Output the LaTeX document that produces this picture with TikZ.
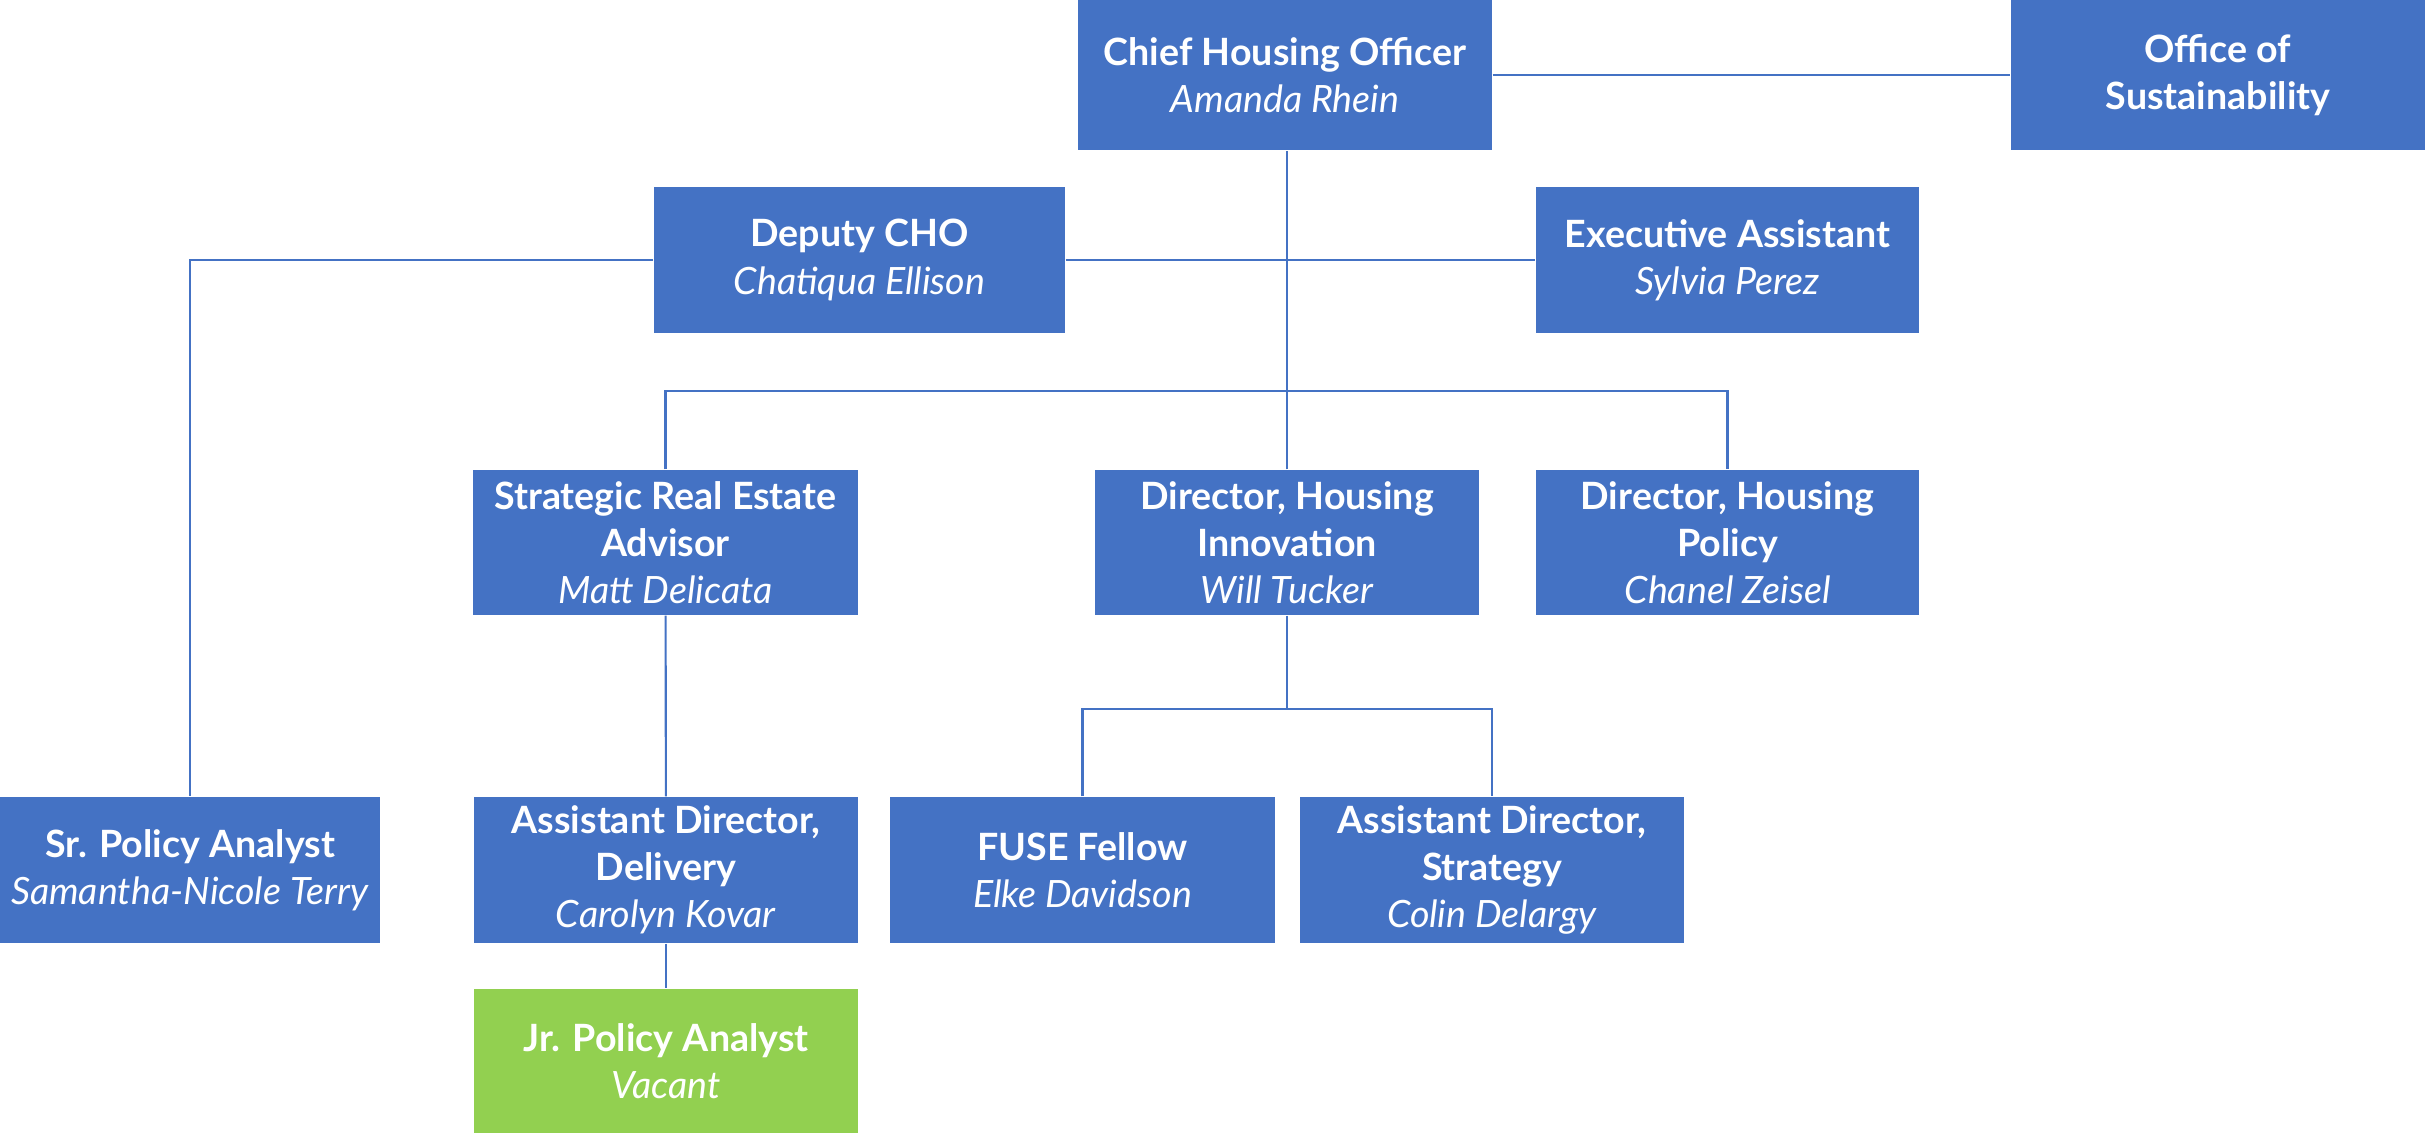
\documentclass[tikz,border=0pt]{standalone}
\usepackage{fontspec}
\setmainfont{Lato}
\definecolor{chblue}{HTML}{4472C4}
\definecolor{chgreen}{HTML}{92D050}
\tikzset{
	post/.style={fill=chblue, text=white, align=center, inner sep=0pt,
		minimum width=38.5mm, minimum height=14.5mm,
		font=\fontsize{10.7}{13.4}\selectfont},
	link/.style={draw=chblue, line width=0.6pt}
}
\newcommand{\who}[1]{\textit{#1}}
\begin{document}
\begin{tikzpicture}[x=0.1mm,y=-0.1mm]
	\useasboundingbox (0,0) rectangle (2425,1133);
	% top row
	\node[post, minimum width=41.4mm, minimum height=15mm] (cho) at (1285,75) {\textbf{Chief Housing Officer}\\\who{Amanda Rhein}};
	\node[post, minimum width=41.4mm, minimum height=15mm] (sust) at (2218,75) {\textbf{Office of}\\\textbf{Sustainability}};
	% deputy and assistant
	\node[post, minimum width=41.1mm, minimum height=14.6mm] (dep) at (859.5,260) {\textbf{Deputy CHO}\\\who{Chatiqua Ellison}};
	\node[post, minimum width=38.3mm, minimum height=14.6mm] (exec) at (1727.5,260) {\textbf{Executive Assistant}\\\who{Sylvia Perez}};
	% directors
	\node[post] (real) at (665.5,542.5) {\textbf{Strategic Real Estate}\\\textbf{Advisor}\\\who{Matt Delicata}};
	\node[post, minimum width=38.4mm] (innov) at (1287,542.5) {\textbf{Director, Housing}\\\textbf{Innovation}\\\who{Will Tucker}};
	\node[post, minimum width=38.3mm] (pol) at (1727.5,542.5) {\textbf{Director, Housing}\\\textbf{Policy}\\\who{Chanel Zeisel}};
	% staff
	\node[post, minimum width=38mm, minimum height=14.6mm] (sr) at (190,870) {\textbf{Sr. Policy Analyst}\\\who{Samantha-Nicole Terry}};
	\node[post, minimum width=38.4mm, minimum height=14.6mm] (deliv) at (666,870) {\textbf{Assistant Director,}\\\textbf{Delivery}\\\who{Carolyn Kovar}};
	\node[post, minimum height=14.6mm] (fuse) at (1082.5,870) {\textbf{FUSE Fellow}\\\who{Elke Davidson}};
	\node[post, minimum width=38.4mm, minimum height=14.6mm] (strat) at (1492,870) {\textbf{Assistant Director,}\\\textbf{Strategy}\\\who{Colin Delargy}};
	\node[post, fill=chgreen, minimum width=38.4mm, minimum height=14.4mm] (jr) at (666,1061) {\textbf{Jr. Policy Analyst}\\\who{Vacant}};
	% connectors
	\coordinate (bus) at (1287,391);
	\coordinate (fbus) at (1287,709);
	\draw[link] (cho) -- (sust);
	\draw[link] (innov.north) -- (innov.north |- cho.south);
	\draw[link] (dep) -- (exec);
	\draw[link] (dep.west) -| (sr.north);
	\draw[link] (real.north) |- (bus) -| (pol.north);
	\draw[link] (real) -- (deliv);
	\draw[link] (deliv) -- (jr);
	\draw[link] (innov.south) -- (fbus);
	\draw[link] (fuse.north) |- (fbus) -| (strat.north);
\end{tikzpicture}
\end{document}
